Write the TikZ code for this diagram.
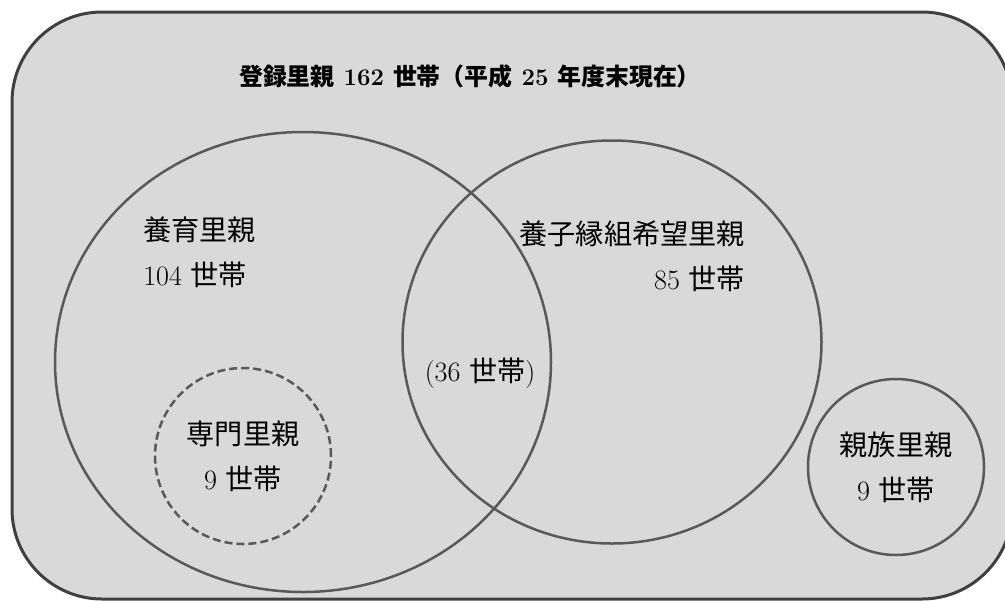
\documentclass[tikz,border=0pt]{standalone}
\usepackage{fontspec}
\usepackage{tikz}
\usetikzlibrary{shapes.geometric,positioning}
\newfontfamily\cjk{Noto Sans CJK JP}
\newcommand{\px}{0.025cm}
\newcommand{\jp}[1]{{\cjk #1}}
\definecolor{framegray}{RGB}{217,217,217}
\definecolor{frameline}{RGB}{64,64,64}
\definecolor{setline}{RGB}{89,89,89}
\tikzset{
  font=\fontsize{20}{32}\selectfont,
  frame/.style={draw=frameline,fill=framegray,line width=3*\px,rounded corners=2.25cm},
  setshape/.style={draw=setline,line width=2.5*\px,shape=ellipse,inner sep=0},
  setcircle/.style={setshape,shape=circle,minimum size=176*\px},
  subset/.style={setcircle,dash pattern=on 0.2cm off 0.1cm},
  settext/.style={inner sep=0},
  titletext/.style={settext,font=\fontsize{17}{20}\selectfont\bfseries}
}

\begin{document}
\begin{tikzpicture}[x=\px,y=-\px]
    \clip (0,0) rectangle (1005,600);
    \path [frame] (12,12) rectangle (1012,599);

    % sets
    \node (yoiku) [setshape,minimum width=496*\px,minimum height=460*\px] at (303,362) {};
    \node (engumi) [setshape,minimum width=419*\px,minimum height=403*\px] at (612,342) {};
    \node (senmon) [subset] at (243,456) {};
    \node (shinzoku) [setcircle] at (896,467) {};

    % texts
    \node (title) [titletext] at (470,76) {\jp{登録里親} 162 \jp{世帯（平成} 25 \jp{年度末現在）}};
    \node (yoikutext) [settext,anchor=west,align=left] at (143,252) {\jp{養育里親}\\104 \jp{世帯}};
    \node (engumitext) [settext,anchor=east,align=right] at (745,256) {\jp{養子縁組希望里親}\\85 \jp{世帯}};
    \node (both) [settext] at (480,373) {(36 \jp{世帯})};
    \node (senmontext) [settext,align=center] at (senmon) {\jp{専門里親}\\9 \jp{世帯}};
    \node (shinzokutext) [settext,align=center] at (shinzoku) {\jp{親族里親}\\9 \jp{世帯}};
\end{tikzpicture}
\end{document}
